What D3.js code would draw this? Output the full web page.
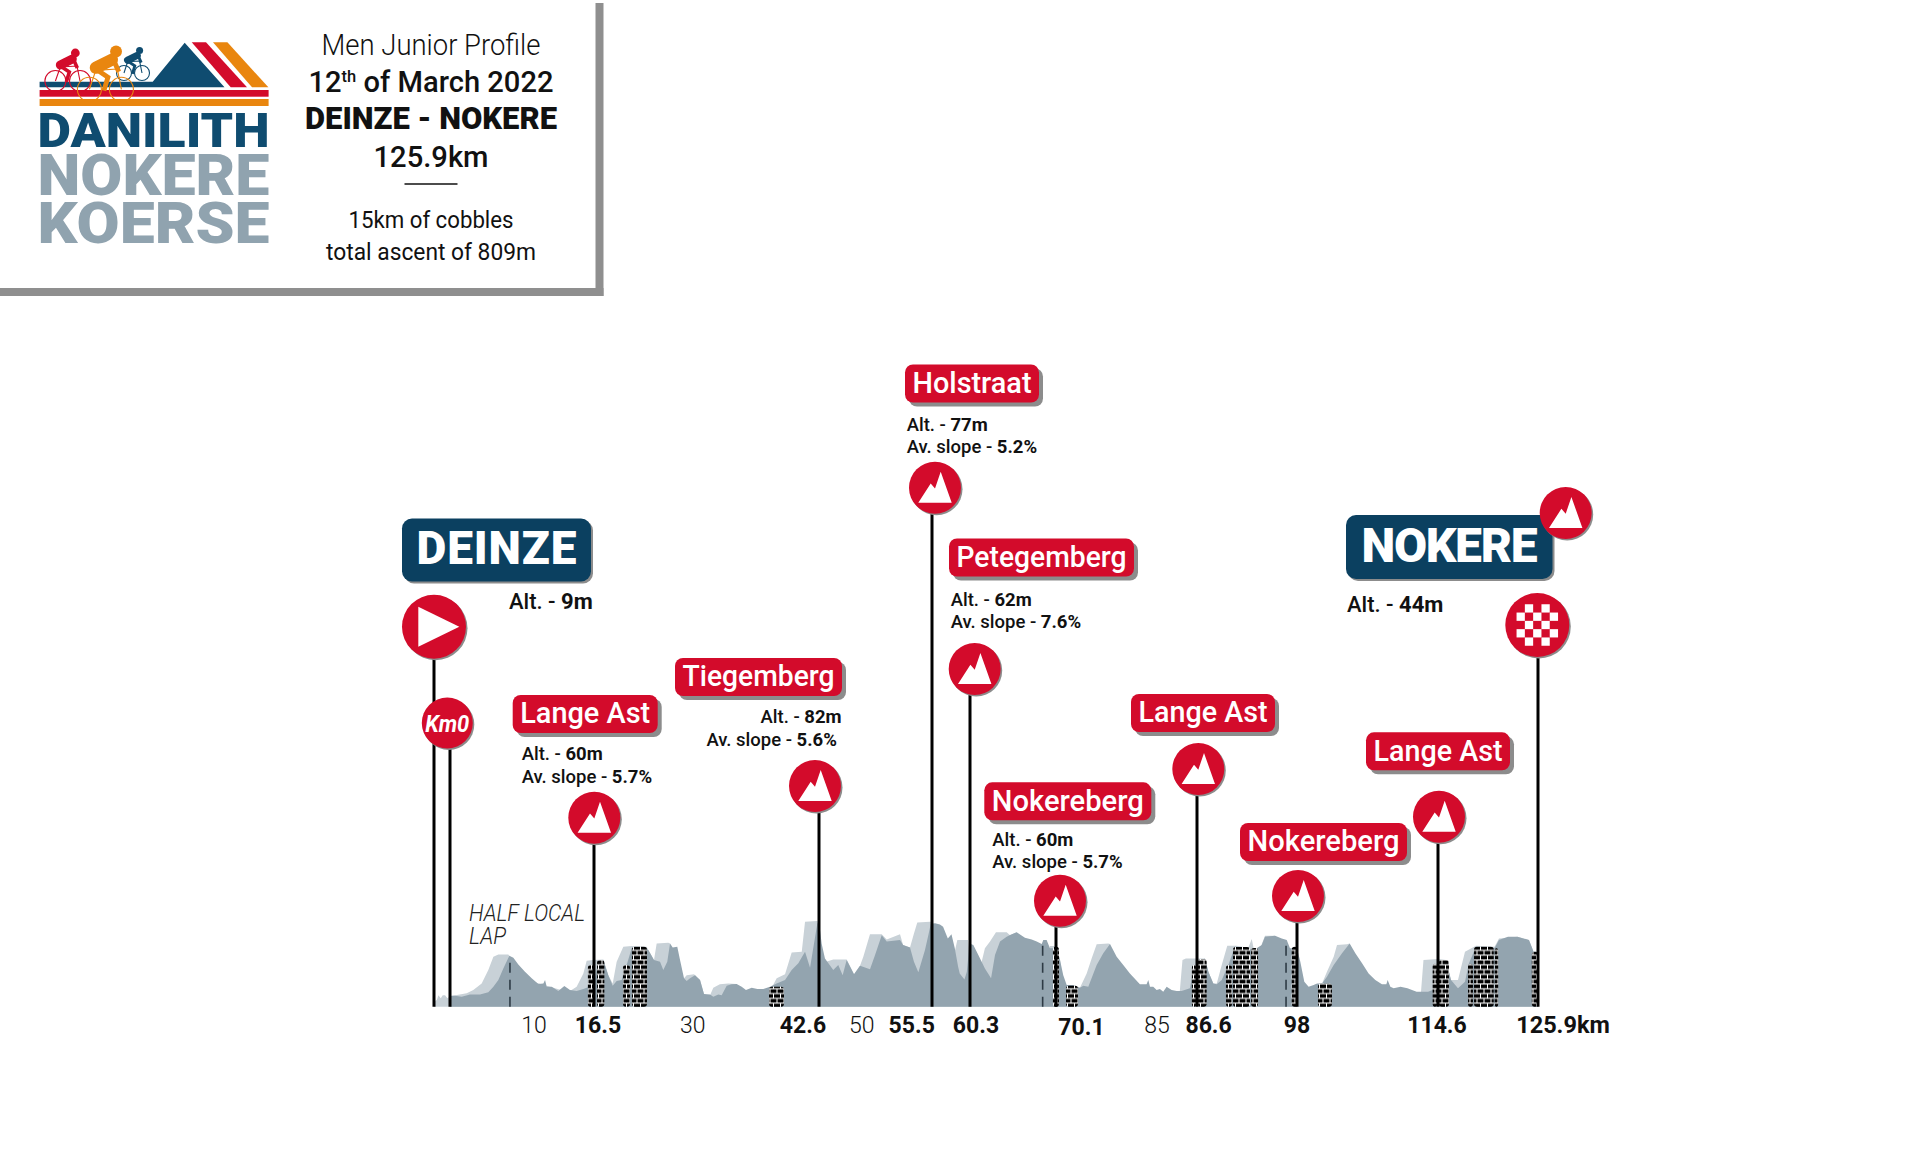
<!DOCTYPE html>
<html>
<head>
<meta charset="utf-8">
<title>Danilith Nokere Koerse - Men Junior Profile</title>
<script src="https://cdn.jsdelivr.net/npm/d3@7/dist/d3.min.js"></script>
<style>
  html, body { margin: 0; padding: 0; background: #fff; }
  svg { display: block; }
  text { font-family: Roboto, "Noto Sans", sans-serif; }
</style>
</head>
<body>
<div id="chart"></div>
<script>
// ---------- data ----------
// [km, altitude in m] : the front (dark) profile
const darkProfile = [
  [0,10.5],[0.57,10.5],[1.34,9.5],[2.29,11.7],[3.44,11.7],[4.39,13.7],[4.97,19],[5.54,25.4],[6.11,36.5],[6.8,48.6],
  [7.26,46.7],[7.83,40.3],[8.59,33.3],[9.36,27],[10.12,21.6],[10.7,22.2],[10.89,25.4],[11.08,19],[11.65,19],[12.41,14.9],
  [13.1,19.7],[13.75,15.9],[14.51,14.9],[15.28,16.8],[15.96,19],[16.6,27],[17,42.9],[17.58,44.4],[18.16,30],[18.67,20],
  [19.13,24.4],[19.71,25.4],[20.29,39.7],[20.87,55.6],[22.22,56.5],[22.8,54],[23.46,44.4],[24.16,42.9],[24.54,34.9],[25,42.9],
  [25.32,60.3],[25.63,56.5],[26.16,57],[26.48,44.4],[26.94,27],[27.25,24.4],[27.64,27],[28.22,30],[28.8,25.4],[29.26,12],
  [29.96,11.7],[30.34,9.5],[30.92,11.7],[31.31,11],[31.89,20],[32.47,21.3],[33.05,21.6],[33.63,19],[34.13,15.9],[34.79,18],
  [35.45,16.8],[36.14,16.8],[36.92,19],[37.69,22],[38.66,25.4],[39.43,34.9],[40.2,41.3],[40.98,52.4],[41.56,37],[42.4,79],
  [42.6,81],[42.9,60.3],[43.28,46],[44.23,34.9],[44.8,39.7],[45.3,30],[45.76,44.4],[46.6,30.8],[47.28,39],[48.42,35.6],
  [49,49.2],[49.76,68],[50.33,62],[51.85,63.5],[52.2,58.7],[52.99,56.5],[53.44,42.9],[53.94,32.7],[54.7,54],[55.08,68],
  [55.36,79],[55.88,79.4],[56.5,78.4],[56.9,76.2],[57.5,65],[57.96,68.9],[58.38,55.6],[58.8,38],[59,31.7],[59.6,26],
  [59.9,33.3],[60.25,60.3],[60.68,58.7],[61.25,49.2],[62,36.5],[62.7,27],[63.15,49.2],[63.72,62],[64.48,66.7],[64.86,68.3],
  [65.62,70.8],[66.56,65.7],[67.33,64.1],[67.9,62],[68.47,59.7],[68.65,63.5],[69.03,63.5],[69.41,55.6],[70.17,55.6],[70.57,44.4],
  [70.95,30],[71.35,20.6],[72.1,20.6],[72.9,18],[73.3,20],[73.88,19],[74.86,39.7],[75.63,50.8],[76.42,59.7],[77.2,47.6],
  [77.97,39.7],[78.75,31.7],[79.92,21.3],[80.7,21.3],[80.9,25.4],[81.1,19],[81.48,19],[81.88,15.9],[82.26,16.8],[82.65,14.3],
  [83.05,19],[83.63,15.9],[84.22,14.9],[84.8,14.9],[85.77,17.5],[86.16,34.9],[86.6,39.7],[87.5,46],[87.9,33.3],[88.46,22.2],
  [88.85,21.3],[89.42,25.4],[90.17,39.7],[90.93,57],[92.45,56.2],[92.84,54],[93.4,55.6],[93.98,58.7],[94.35,66.7],[95.5,67.6],
  [96.26,65],[96.83,63.5],[97.2,55.6],[98,55.6],[98.39,42.9],[98.86,23.8],[99.37,19],[99.96,20.6],[100.36,22.2],[100.95,22.2],
  [101.53,28.6],[102.32,39.7],[103.3,50.8],[104.2,60.3],[104.87,50.8],[105.66,41.3],[106.43,31.7],[107.22,25.4],[108,21.3],[108.52,21.3],
  [108.67,25.4],[108.99,19],[109.38,17.5],[110.19,19],[111,17.5],[112.08,14.3],[113.43,14.3],[113.97,15.9],[114.6,36.5],[115.5,44.4],
  [116.07,25.4],[116.86,17.5],[117.65,23.8],[118.1,41.3],[118.89,57],[120.99,55.6],[121.49,63.5],[122.51,66.7],[123.58,66.7],[124.88,63.5],
  [125.4,52.4],[125.9,52.4]
];

// [km, altitude in m] : the paler profile standing behind it
const lightProfile = [
  [-1.85,5],[-1.52,6.3],[-1.34,11],[-1.07,8],[-0.84,11],[-0.57,11],[-0.3,8],[0,10],
  [1.91,12.7],[2.67,15.9],[3.63,22.2],[4.39,34.9],[4.97,47.6],[5.54,49.8],[6.68,49.8],[6.8,48.6],[7,30],
  [13.5,14],[13.75,15],[14.51,19],[15.28,31.7],[15.66,43.8],[16.43,44.4],[17.58,45],[18.16,30],[18.67,22.2],[19.13,42.9],
  [19.9,57],[20.87,57.8],[22.6,57],[23.46,44.4],[23.77,60.3],[25.12,61],[25.32,60.3],[25.4,50],[26.6,30],[26.94,27],
  [27.25,30],[28.1,30.8],[28.8,25.4],[29.3,11],[29.96,11],[30.34,18],[31.1,21.3],[32.08,22.2],[33.05,21.6],[33.2,15],
  [36.92,15],[37.69,27],[38.66,30.8],[39.43,51.7],[40.6,52.4],[40.98,81],[42.34,81.6],[42.6,81],[42.7,40],[43.5,43],
  [44.23,45],[45.76,45],[46.6,30.8],[47.28,39],[47.66,47.6],[48.42,69],[49.76,69],[50.33,64],[51.85,69],[52.2,58.7],
  [52.99,56.5],[53.44,69.8],[53.82,80.3],[55.27,81],[55.5,81],[55.6,40],[58.3,50],[58.7,63.5],[60.04,63.5],[60.25,50],
  [60.5,30],[61.5,30],[61.63,42.9],[62,55.6],[62.58,62],[63.26,70.8],[64.48,70.8],[64.86,68],[65.62,70.8],[65.7,40],
  [69.3,40],[69.41,57.8],[70.17,57.8],[70.57,44.4],[70.95,20],[72.9,18],[73.69,31.7],[74.27,46],[74.86,59.4],[76.22,60.3],
  [76.42,59.7],[76.6,30],[77,20],[84.5,10],[84.6,15.9],[84.9,44.4],[85.3,46],[87.5,46],[87.9,33.3],[88.46,22.2],
  [88.85,22.2],[89.42,39.7],[90.05,58],[91.13,58],[92.45,56.2],[92.84,64.4],[93.1,54],[93.8,55.6],[94.35,67.6],[95.5,67.6],
  [95.7,10],[100.9,10],[100.95,22],[101.53,33.3],[102.32,47.6],[102.71,58.7],[103.89,59.4],[104.2,60.3],[104.5,10],[112.5,10],
  [112.6,14.3],[112.89,44.4],[114.6,45.4],[115.5,44.4],[116.07,25.4],[116.86,25.4],[117.65,52.4],[118.89,58],[120.99,57],[121.49,65],
  [123.58,66.7],[124.88,63.5],[125.4,52.4],[125.9,52.4]
];

// cobbled sectors: start km, end km, height of the brick block in m
const cobbleStart = [15.8,16.85,19.86,20.9,36.8,69.75,71.27,86,86.7,89.9,90.7,92.76,97.4,100.47,113.97,114.7,117.99,118.67,121,125.2];
const cobbleEnd   = [16.6,17.7,20.68,22.65,38.54,70.45,72.67,86.5,87.7,90.6,92.64,93.56,98.1,102.12,114.5,115.84,118.55,120.9,121.4,125.9];
const cobbleTop   = [39.7,44.4,39.7,57,19,57,20,39.7,45.4,39.7,56.8,56,57,22.2,41,44.4,41,57,55.6,52.4];

// dashed lap marks
const lapKm  = [6.87,68.58,96.75];
const lapAlt = [48.6,63.5,64.5];

// climbs
const climbNames = ["Lange Ast","Tiegemberg","Holstraat","Petegemberg","Nokereberg","Lange Ast","Nokereberg","Lange Ast"];
const climbKm    = [16.5,42.6,55.5,60.3,70.1,86.6,98,114.6];
const climbAlt   = ["60m","82m","77m","62m","60m",null,null,null];
const climbSlope = ["5.7%","5.6%","5.2%","7.6%","5.7%",null,null,null];

const startName = "DEINZE", startAlt = "9m", startKm = -1.85, kmZero = 0;
const finishName = "NOKERE", finishAlt = "44m", finishKm = 125.9;

// distance labels under the profile
const tickLabels = ["10","16.5","30","42.6","50","55.5","60.3","70.1","85","86.6","98","114.6","125.9km"];
const tickBold   = [false,true,false,true,false,true,true,true,false,true,true,true,true];

// header
const headerLines = ["Men Junior Profile","12","of March 2022","DEINZE - NOKERE","125.9km","15km of cobbles","total ascent of 809m"];

// ---------- colours ----------
const RED = "#d30b2b", BLUE = "#0b4060", NAVY = "#0f4c70", ORANGE = "#e9860f", STEEL = "#90a3af";
const DARK = "#93a4af", LIGHT = "#c8d1d7", SHADOW = "#8c8c8c";

// ---------- scales ----------
// the published profile is not quite linear, so the scale is pinned at each marked km
const x = d3.scaleLinear()
  .domain([-1.85,0,16.5,42.6,55.5,60.3,70.1,86.6,98,114.6,125.9])
  .range([434,450,594,819,932,970,1056,1197,1297,1438,1538]);
const y = d3.scaleLinear().domain([0,82]).range([1006.7,920.6]);

const svg = d3.select("#chart").append("svg").attr("width",1920).attr("height",1153);
const defs = svg.append("defs");

// brick pattern
const brick = defs.append("pattern").attr("id","brick").attr("patternUnits","userSpaceOnUse")
  .attr("width",14).attr("height",9.6);
brick.append("rect").attr("width",14).attr("height",9.6).attr("fill","#fff");
[[0.5,0.5],[7.5,0.5],[-3,5.3],[4,5.3],[11,5.3]].forEach(p => {
  brick.append("rect").attr("x",p[0]).attr("y",p[1]).attr("width",6).attr("height",3.7).attr("fill","#000");
});

// ---------- profile ----------
const area = d3.area().x(d => x(d[0])).y0(y(0)).y1(d => y(d[1]));
svg.append("path").datum(lightProfile).attr("d",area).attr("fill",LIGHT);
svg.append("path").datum(darkProfile).attr("d",area).attr("fill",DARK);

svg.append("g").selectAll("rect").data(cobbleStart).join("rect")
  .attr("x",d => x(d))
  .attr("y",(d,i) => y(cobbleTop[i]))
  .attr("width",(d,i) => x(cobbleEnd[i]) - x(d))
  .attr("height",(d,i) => y(0) - y(cobbleTop[i]))
  .attr("rx",3)
  .attr("fill","url(#brick)");

svg.append("g").selectAll("line").data(lapKm).join("line")
  .attr("x1",d => x(d)).attr("x2",d => x(d))
  .attr("y1",y(0)).attr("y2",(d,i) => y(lapAlt[i]))
  .attr("stroke","#2e3b45").attr("stroke-width",1.6).attr("stroke-dasharray","10,7");

svg.append("text").attr("x",469).attr("y",921).attr("font-size",24.5).attr("font-style","italic")
  .attr("font-weight",300).attr("fill","#222").attr("textLength",116).attr("lengthAdjust","spacingAndGlyphs").text("HALF LOCAL");
svg.append("text").attr("x",469).attr("y",944).attr("font-size",24.5).attr("font-style","italic")
  .attr("font-weight",300).attr("fill","#222").attr("textLength",37).attr("lengthAdjust","spacingAndGlyphs").text("LAP");

// ---------- helpers ----------
function discShadow(cx,cy,r) {
  svg.append("circle").attr("cx",cx+1.5).attr("cy",cy+1.5).attr("r",r).attr("fill",SHADOW);
  svg.append("circle").attr("cx",cx).attr("cy",cy).attr("r",r).attr("fill",RED);
}
function mountainDisc(cx,cy) {
  discShadow(cx,cy,26);
  const pts = [[-16.7,15],[-4.3,-4.3],[0,0.7],[5.7,-16],[16.7,15]];
  svg.append("polygon").attr("points",pts.map(p => [cx+p[0],cy+p[1]].join(",")).join(" ")).attr("fill","#fff");
}
function stem(km,top) {
  svg.append("line").attr("x1",x(km)).attr("x2",x(km)).attr("y1",top).attr("y2",y(0))
    .attr("stroke","#000").attr("stroke-width",3);
}
function tag(x0,y0,w,h,fill,off,rx) {
  svg.append("rect").attr("x",x0+off).attr("y",y0+off).attr("width",w).attr("height",h).attr("rx",rx).attr("fill",SHADOW);
  svg.append("rect").attr("x",x0).attr("y",y0).attr("width",w).attr("height",h).attr("rx",rx).attr("fill",fill);
}
function altLine(x0,yc,head,value,size) {
  const t = svg.append("text").attr("x",x0).attr("y",yc+size*0.36).attr("font-size",size).attr("fill","#111");
  t.append("tspan").attr("font-weight",500).text(head + " - ");
  t.append("tspan").attr("font-weight",700).text(value);
}

// ---------- climbs ----------
// label placement for each climb, in the order of climbNames
const climbLayout = [
  {cx:594.3, cy:817.7, bx:512.7, by:695,   bw:145, tx:521.7, ay:753.6},
  {cx:815,   cy:786,   bx:675,   by:658,   bw:167, tx:null,  ay:716.6},
  {cx:935,   cy:487.7, bx:905,   by:364.5, bw:134, tx:906.7, ay:424.3},
  {cx:974.7, cy:669,   bx:949,   by:538.5, bw:185, tx:950.7, ay:598.9},
  {cx:1060,  cy:900.7, bx:984.3, by:782.3, bw:167, tx:992.3, ay:838.9},
  {cx:1198.3,cy:769,   bx:1131,  by:694,   bw:144},
  {cx:1298,  cy:896,   bx:1240,  by:823,   bw:167},
  {cx:1439,  cy:816.7, bx:1366,  by:732.3, bw:144}
];

climbKm.forEach((km,i) => stem(km,climbLayout[i].cy));

climbNames.forEach((name,i) => {
  const L = climbLayout[i];
  mountainDisc(L.cx,L.cy);
  tag(L.bx,L.by,L.bw,38,RED,4,8);
  svg.append("text").attr("x",L.bx+L.bw/2).attr("y",L.by+28.3).attr("text-anchor","middle")
    .attr("font-size",30).attr("font-weight",500).attr("fill","#fff")
    .attr("textLength",L.bw-15).attr("lengthAdjust","spacingAndGlyphs").text(name);
  if (climbAlt[i]) {
    if (L.tx === null) {
      // Tiegemberg has its two lines set to the right
      altLine(760.5,L.ay,"Alt.",climbAlt[i],18.5);
      altLine(706.5,L.ay+22.7,"Av. slope",climbSlope[i],18.5);
    } else {
      altLine(L.tx,L.ay,"Alt.",climbAlt[i],18.5);
      altLine(L.tx,L.ay+22.5,"Av. slope",climbSlope[i],18.5);
    }
  }
});

// ---------- start ----------
stem(startKm,626.7);
stem(kmZero,723);
discShadow(434,626.7,32);
svg.append("polygon").attr("points","418.3,606.7 459.3,626.7 418.3,646.7").attr("fill","#fff");
discShadow(447.3,723,25.5);
svg.append("text").attr("x",447.3).attr("y",731.5).attr("text-anchor","middle").attr("font-size",24)
  .attr("font-weight",700).attr("font-style","italic").attr("fill","#fff")
  .attr("textLength",44).attr("lengthAdjust","spacingAndGlyphs").text("Km0");
tag(402,518.5,189,63,BLUE,2,10);
svg.append("text").attr("x",496.5).attr("y",563.5).attr("text-anchor","middle").attr("font-size",46)
  .attr("font-weight",900).attr("fill","#fff").attr("textLength",160).attr("lengthAdjust","spacing").text(startName);
altLine(509,601,"Alt.",startAlt,22);

// ---------- finish ----------
stem(finishKm,625);
discShadow(1537.3,625,32);
const cell = 8.3;
const flag = svg.append("g");
d3.range(-3,4).forEach(r => d3.range(-3,4).forEach(c => {
  const whole = Math.hypot(Math.abs(c)+0.5,Math.abs(r)+0.5)*cell <= 27;
  if (whole && (Math.abs(r)+Math.abs(c)) % 2 === 1) {
    flag.append("rect").attr("x",1537.3+(c-0.5)*cell).attr("y",625+(r-0.5)*cell)
      .attr("width",cell).attr("height",cell).attr("fill","#fff");
  }
}));
tag(1346,515,206.5,64,BLUE,2,10);
svg.append("text").attr("x",1449.5).attr("y",561.5).attr("text-anchor","middle").attr("font-size",48)
  .attr("font-weight",900).attr("fill","#fff").attr("textLength",176).attr("lengthAdjust","spacing").text(finishName);
mountainDisc(1565.7,513);
altLine(1347,604,"Alt.",finishAlt,22);

// ---------- distance labels ----------
const tickX = [534,598,692.7,803,861.7,911.7,976,1081.5,1157,1208.6,1297,1437,1563];
svg.append("g").selectAll("text").data(tickLabels).join("text")
  .attr("x",(d,i) => tickX[i])
  .attr("y",(d,i) => d === "70.1" ? 1035 : 1033)
  .attr("text-anchor","middle")
  .attr("font-size",d => d === "125.9km" ? 23.5 : 23)
  .attr("font-weight",(d,i) => tickBold[i] ? 700 : 300)
  .attr("fill","#111")
  .text(d => d);

// ---------- header box ----------
svg.append("rect").attr("x",595.5).attr("y",3).attr("width",8).attr("height",293).attr("fill","#8f8f8f");
svg.append("rect").attr("x",0).attr("y",288).attr("width",603.5).attr("height",8).attr("fill","#8f8f8f");

const headX = 431;
function headLine(text,yb,size,weight,len) {
  return svg.append("text").attr("x",headX).attr("y",yb).attr("text-anchor","middle").attr("font-size",size)
    .attr("font-weight",weight).attr("fill","#111").attr("textLength",len).attr("lengthAdjust","spacingAndGlyphs").text(text);
}
headLine(headerLines[0],55,30,300,219);
const dateLine = svg.append("text").attr("x",headX).attr("y",91.5).attr("text-anchor","middle").attr("font-size",30)
  .attr("font-weight",500).attr("fill","#111").attr("textLength",245).attr("lengthAdjust","spacingAndGlyphs");
dateLine.append("tspan").text(headerLines[1]);
dateLine.append("tspan").attr("font-size",17).attr("dy",-10).text("th");
dateLine.append("tspan").attr("dy",10).text(" " + headerLines[2]);
headLine(headerLines[3],128.5,31,900,252);
headLine(headerLines[4],166.5,30,500,115);
svg.append("line").attr("x1",404.5).attr("x2",457.5).attr("y1",184).attr("y2",184).attr("stroke","#111").attr("stroke-width",1.3);
headLine(headerLines[5],228,24,400,165);
headLine(headerLines[6],259.5,24,400,210);

// ---------- logo ----------
const logo = svg.append("g");
logo.append("polygon").attr("points","191.7,42.3 206,42.3 247,87.3 230.7,87.3").attr("fill",RED);
logo.append("polygon").attr("points","213,42.3 227.4,42.3 268.4,87.3 252,87.3").attr("fill",ORANGE);
logo.append("polygon").attr("points","184.7,42.7 152.7,81.7 39.6,81.7 39.6,87.3 224.5,87.3").attr("fill",NAVY);
logo.append("rect").attr("x",39.6).attr("y",90).attr("width",229).attr("height",6.7).attr("fill",RED);
logo.append("rect").attr("x",39.6).attr("y",99).attr("width",229).attr("height",7).attr("fill",ORANGE);

function logoWord(word,yb,size,fill) {
  logo.append("text").attr("x",37.5).attr("y",yb).attr("font-size",size).attr("font-weight",900).attr("fill",fill)
    .attr("textLength",232).attr("lengthAdjust","spacingAndGlyphs").text(word);
}
logoWord("DANILITH",146.7,49,NAVY);
logoWord("NOKERE",195,57,STEEL);
logoWord("KOERSE",242.5,58,STEEL);

function rider(wx1,wx2,wy,r,s,color) {
  const g = logo.append("g").attr("fill","none").attr("stroke",color);
  g.append("circle").attr("cx",wx1).attr("cy",wy).attr("r",r).attr("stroke-width",1.1);
  g.append("circle").attr("cx",wx2).attr("cy",wy).attr("r",r).attr("stroke-width",1.1);
  const hx = wx1 + (wx2-wx1)*0.2, hy = wy - 14*s;
  const frame = d3.path();
  frame.moveTo(wx1,wy); frame.lineTo(hx,hy); frame.lineTo(wx2-3*s,hy-1*s); frame.lineTo(wx2,wy);
  g.append("path").attr("d",frame.toString()).attr("stroke-width",1.1);
  const body = d3.path();
  body.moveTo(hx,hy-2*s); body.lineTo(hx+12*s,hy-8*s);
  g.append("path").attr("d",body.toString()).attr("stroke-width",9*s).attr("stroke-linecap","round");
  const limbs = d3.path();
  limbs.moveTo(hx,hy-1*s); limbs.lineTo(hx+9*s,hy+5*s); limbs.lineTo(hx+6*s,hy+15*s);
  limbs.moveTo(hx+13*s,hy-8*s); limbs.lineTo(hx+17*s,hy+1*s);
  g.append("path").attr("d",limbs.toString()).attr("stroke-width",3.6*s);
  g.append("circle").attr("cx",hx+15*s).attr("cy",hy-14*s).attr("r",4.4*s).attr("fill",color).attr("stroke","none");
}
rider(124,142,73,7.5,0.8,NAVY);
rider(55.4,80,81,10.5,1,RED);
rider(89.4,121.4,89.3,12,1.35,ORANGE);
</script>
</body>
</html>
